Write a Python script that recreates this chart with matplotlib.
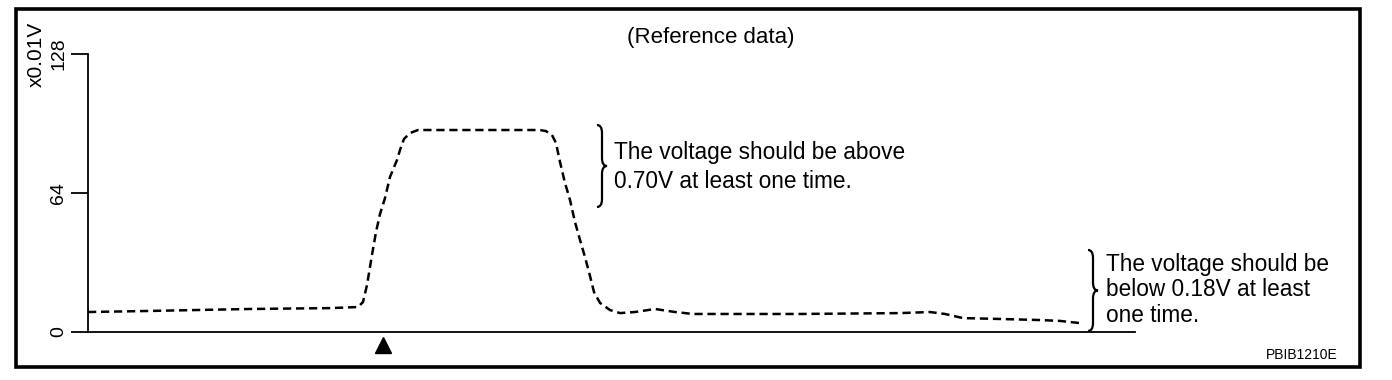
import matplotlib
matplotlib.use("Agg")
import matplotlib.pyplot as plt
from matplotlib.path import Path
from matplotlib.patches import PathPatch, Rectangle
import numpy as np

plt.rcParams['font.family'] = ['Liberation Sans', 'DejaVu Sans']

# signal trace (time in arbitrary units, value in x0.01 V)
t = [0.0, 6.2, 16.2, 24.2, 27.0, 27.5, 27.9, 28.4, 28.8, 29.2, 29.7, 30.2,
     30.9, 31.2, 31.6, 32.2, 33.0, 36.2, 41.2, 45.2, 45.8, 46.4, 46.8, 47.2,
     47.7, 48.2, 48.7, 49.2, 49.7, 50.2, 50.6, 51.2, 52.2, 53.2, 54.7, 56.7,
     58.7, 60.5, 71.2, 81.2, 84.2, 85.7, 87.5, 91.2, 95.2, 97.2, 99.2]
v = [9.2, 9.7, 10.6, 11.0, 11.5, 13.8, 21.6, 35.5, 46.0, 54.3, 61.7, 71.4,
     79.2, 83.8, 88.9, 91.6, 93.0, 93.0, 93.0, 93.0, 92.5, 90.7, 87.0, 78.3,
     68.6, 60.8, 50.6, 42.4, 34.5, 25.8, 18.4, 13.4, 10.1, 8.7, 9.2, 10.6,
     9.2, 8.3, 8.3, 8.7, 9.2, 8.3, 6.4, 6.0, 5.5, 5.1, 4.1]
trigger_t = 29.5
yticks = [0, 64, 128]
unit_label = "x0.01V"
title = "(Reference data)"
note_high = ["The voltage should be above", "0.70V at least one time."]
note_low = ["The voltage should be", "below 0.18V at least", "one time."]
code = "PBIB1210E"

W, H = 1392, 380
fig = plt.figure(figsize=(W / 100, H / 100), dpi=100)

# overlay axes in pixel coordinates for frame, braces and notes
ov = fig.add_axes([0, 0, 1, 1])
ov.set_xlim(0, W)
ov.set_ylim(H, 0)
ov.axis("off")

# data axes: y axis at x=88, x axis at y=332, top of scale at y=54
x0, x1, ytop, ybot = 88, 1135, 54, 332
ax = fig.add_axes([x0 / W, (H - ybot) / H, (x1 - x0) / W, (ybot - ytop) / H])
ax.set_xlim(0, 104.7)
ax.set_ylim(0, 128)
ax.patch.set_alpha(0)
for s in ("top", "right"):
    ax.spines[s].set_visible(False)
for s in ("left", "bottom"):
    ax.spines[s].set_linewidth(1.3)
ax.set_xticks([])
ax.set_yticks(yticks)
ax.set_yticklabels([str(y) for y in yticks], rotation=90, va="center",
                   fontsize=14)
ax.tick_params(axis="y", length=12, width=1.3, pad=3)

ax.plot(t, v, color="black", lw=1.8, dashes=(3.3, 1.9))
ax.plot([trigger_t], [-6], marker="^", color="black", ms=11, clip_on=False)

ax.text(-0.049, 1.0, unit_label, transform=ax.transAxes, rotation=90,
        fontsize=15, ha="center", va="center")

# outer frame
ov.add_patch(Rectangle((15.5, 8.5), 1344, 358, fill=False, lw=2.6,
                       edgecolor="black"))

ov.text(711, 38, title, fontsize=16, ha="center", va="center")
ov.text(1338, 355, code, fontsize=10, ha="right", va="center")


def brace(xa, ya, yb, w=10, r=8):
    xm = xa + w * 0.5
    ym = (ya + yb) / 2
    verts = [(xa, ya), (xm, ya), (xm, ya + r), (xm, ym - r),
             (xm, ym), (xa + w, ym), (xm, ym), (xm, ym + r),
             (xm, yb - r), (xm, yb), (xa, yb)]
    codes = [Path.MOVETO, Path.CURVE3, Path.CURVE3, Path.LINETO,
             Path.CURVE3, Path.CURVE3, Path.CURVE3, Path.CURVE3,
             Path.LINETO, Path.CURVE3, Path.CURVE3]
    ov.add_patch(PathPatch(Path(verts, codes), fill=False, lw=1.6,
                           edgecolor="black"))


brace(597, 125, 207)
brace(1088, 250, 331)

for i, line in enumerate(note_high):
    ov.text(614, 153 + 29 * i, line, fontsize=16.3, ha="left", va="center")
for i, line in enumerate(note_low):
    ov.text(1106, 264 + 26 * i, line, fontsize=16.3, ha="left", va="center")

fig.savefig("out.png", dpi=100)
